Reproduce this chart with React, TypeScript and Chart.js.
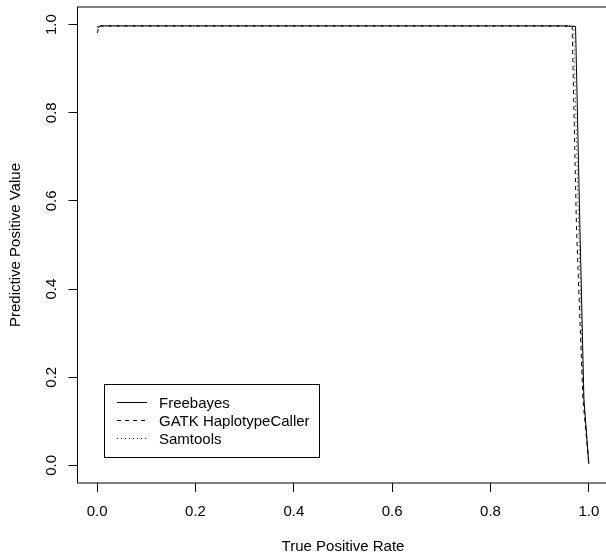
import React, { useEffect, useRef } from "react";
import { Chart, registerables } from "chart.js";

Chart.register(...registerables);

// ---- data ----
const seriesNames = ["Freebayes", "GATK HaplotypeCaller", "Samtools"];

const freebayesTPR = [0.0005, 0.003, 0.006, 0.05, 0.2, 0.4, 0.6, 0.8, 0.95, 0.973, 0.982, 0.99, 1.0];
const freebayesPPV = [0.997, 0.993, 0.997, 0.997, 0.997, 0.997, 0.997, 0.997, 0.997, 0.996, 0.534, 0.15, 0.003];

const gatkTPR = [0.0005, 0.003, 0.01, 0.1, 0.3, 0.5, 0.7, 0.9, 0.96, 0.966, 0.975, 0.988, 1.0];
const gatkPPV = [0.981, 0.996, 0.997, 0.997, 0.997, 0.997, 0.997, 0.997, 0.997, 0.996, 0.534, 0.15, 0.003];

const samtoolsTPR = [0.001, 0.005, 0.02, 0.15, 0.35, 0.55, 0.75, 0.92, 0.969, 0.979, 0.989, 1.0];
const samtoolsPPV = [0.995, 0.998, 0.998, 0.998, 0.998, 0.998, 0.998, 0.998, 0.997, 0.55, 0.16, 0.002];

const xTickValues = [0, 0.2, 0.4, 0.6, 0.8, 1.0];
const xTickLabels = ["0.0", "0.2", "0.4", "0.6", "0.8", "1.0"];
const yTickValues = [0, 0.2, 0.4, 0.6, 0.8, 1.0];
const yTickLabels = ["0.0", "0.2", "0.4", "0.6", "0.8", "1.0"];

const xTitle = "True Positive Rate";
const yTitle = "Predictive Positive Value";

const lineDashes: number[][] = [[], [4, 4], [1, 3]];

const FONT = '15px "Liberation Sans", Arial, sans-serif';

const toPoints = (xs: number[], ys: number[]) => xs.map((x, i) => ({ x, y: ys[i] }));

const decorPlugin = {
  id: "rDecor",
  afterDraw(chart: any) {
    const ctx: CanvasRenderingContext2D = chart.ctx;
    const { left, top, right, bottom } = chart.chartArea;
    const xs = chart.scales.x;
    const ys = chart.scales.y;
    ctx.save();
    // plot box
    ctx.strokeStyle = "#000";
    ctx.lineWidth = 1;
    ctx.setLineDash([]);
    ctx.strokeRect(left, top, right - left, bottom - top);

    ctx.fillStyle = "#000";
    ctx.font = FONT;
    ctx.textAlign = "center";
    ctx.textBaseline = "alphabetic";

    // x tick labels
    xs.ticks.forEach((t: any, i: number) => {
      const idx = xTickValues.indexOf(t.value);
      const label = idx >= 0 ? xTickLabels[idx] : String(t.value);
      ctx.fillText(label, xs.getPixelForValue(t.value), bottom + 32.5);
    });
    // y tick labels (rotated, like R)
    ys.ticks.forEach((t: any) => {
      const idx = yTickValues.indexOf(t.value);
      const label = idx >= 0 ? yTickLabels[idx] : String(t.value);
      ctx.save();
      ctx.translate(left - 22, ys.getPixelForValue(t.value));
      ctx.rotate(-Math.PI / 2);
      ctx.fillText(label, 0, 0);
      ctx.restore();
    });

    // axis titles
    ctx.fillText(xTitle, (left + right) / 2, bottom + 67.5);
    ctx.save();
    ctx.translate(left - 57.5, (top + bottom) / 2);
    ctx.rotate(-Math.PI / 2);
    ctx.fillText(yTitle, 0, 0);
    ctx.restore();

    // legend
    const bx = 104.5, by = 384.5, bw = 215, bh = 73;
    ctx.strokeRect(bx, by, bw, bh);
    ctx.textAlign = "left";
    chart.data.datasets.forEach((ds: any, i: number) => {
      const ly = 402.5 + 18 * i;
      ctx.beginPath();
      ctx.setLineDash(ds.borderDash || []);
      ctx.strokeStyle = ds.borderColor;
      ctx.lineWidth = ds.borderWidth;
      ctx.moveTo(117, ly);
      ctx.lineTo(147, ly);
      ctx.stroke();
      ctx.setLineDash([]);
      ctx.fillText(ds.label, 159, ly + 5.5);
    });
    ctx.restore();
  },
};

export default function App() {
  const ref = useRef<HTMLCanvasElement>(null);

  useEffect(() => {
    if (!ref.current) return;
    const seriesX = [freebayesTPR, gatkTPR, samtoolsTPR];
    const seriesY = [freebayesPPV, gatkPPV, samtoolsPPV];
    const datasets = seriesNames.map((name, i) => ({
      label: name,
      data: toPoints(seriesX[i], seriesY[i]),
      showLine: true,
      fill: false,
      borderColor: "#000",
      borderWidth: 1,
      borderDash: lineDashes[i],
      pointRadius: 0,
      pointHoverRadius: 0,
      tension: 0,
    }));

    const axisCommon = {
      type: "linear" as const,
      min: -0.04,
      max: 1.04,
      ticks: { display: false, includeBounds: false },
      grid: {
        display: true,
        drawOnChartArea: false,
        drawTicks: true,
        tickLength: 9,
        color: "#000",
        lineWidth: 1,
      },
      border: { display: false },
    };

    const chart = new Chart(ref.current, {
      type: "scatter",
      data: { datasets },
      options: {
        animation: false,
        responsive: false,
        layout: { padding: { left: 0, top: 7, right: 11.5, bottom: 0 } },
        plugins: {
          legend: { display: false },
          tooltip: { enabled: false },
        },
        scales: {
          x: {
            ...axisCommon,
            afterBuildTicks: (s: any) => {
              s.ticks = xTickValues.map((v) => ({ value: v }));
            },
            afterFit: (s: any) => {
              s.height = 77;
            },
          },
          y: {
            ...axisCommon,
            afterBuildTicks: (s: any) => {
              s.ticks = yTickValues.map((v) => ({ value: v }));
            },
            afterFit: (s: any) => {
              s.width = 77.5;
            },
          },
        },
      } as any,
      plugins: [decorPlugin],
    });
    return () => chart.destroy();
  }, []);

  return (
    <div
      style={{
        position: "absolute",
        left: 0,
        top: 0,
        width: 606,
        height: 560,
        overflow: "hidden",
        background: "#fff",
      }}
    >
      <canvas ref={ref} width={620} height={560} style={{ display: "block" }} />
    </div>
  );
}
